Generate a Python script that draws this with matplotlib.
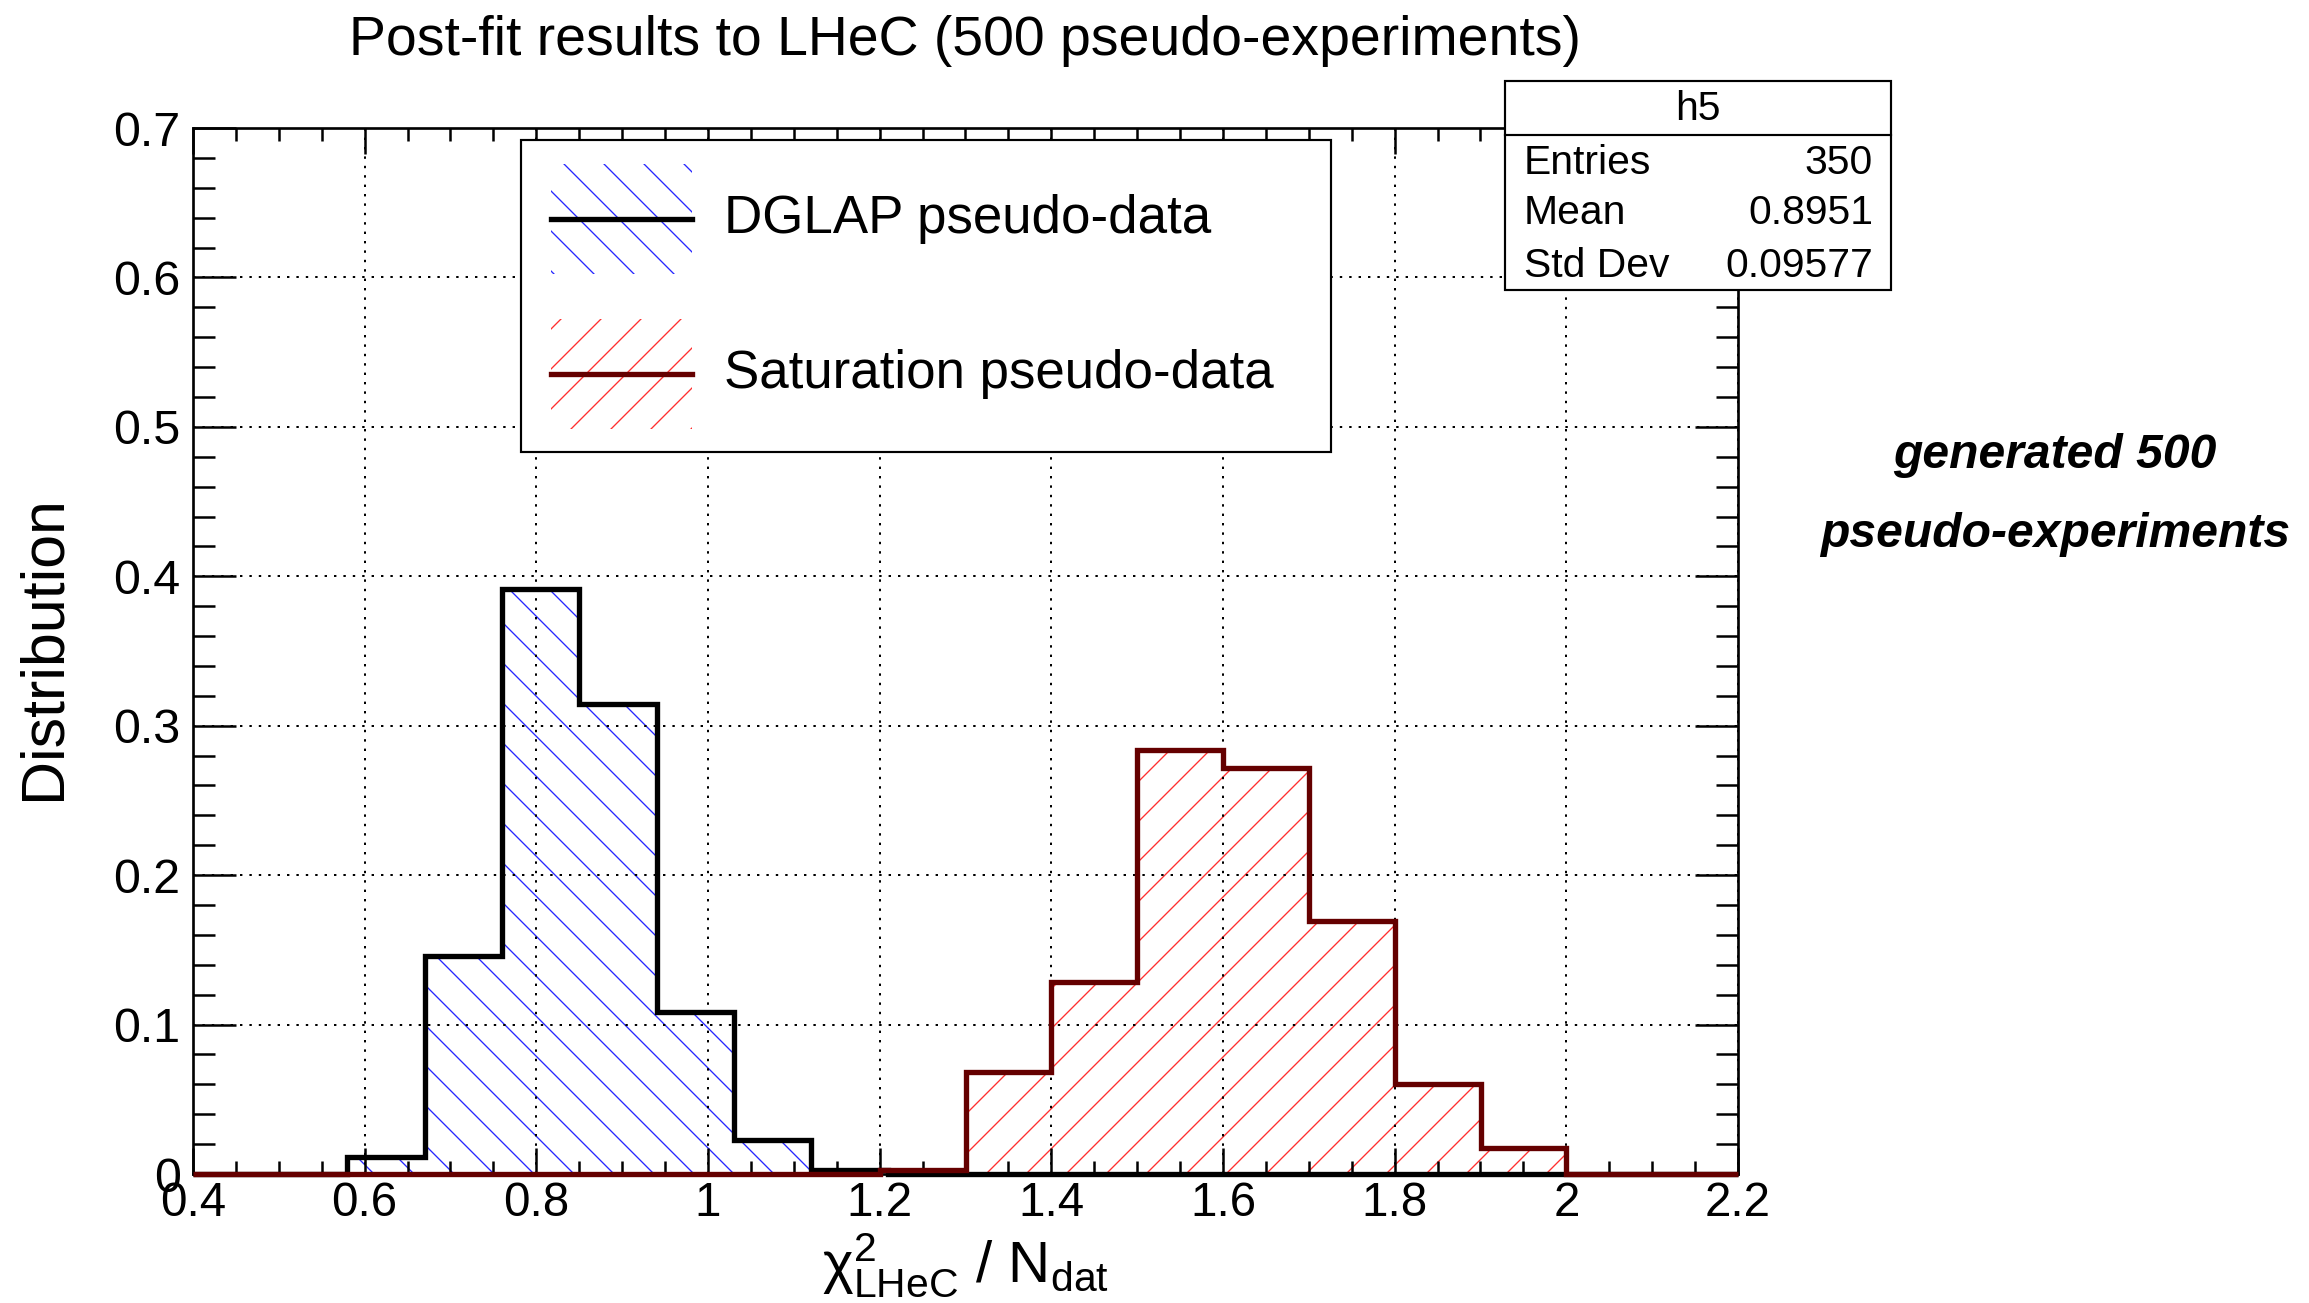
import numpy as np
import matplotlib
matplotlib.use("Agg")
import matplotlib.pyplot as plt
from matplotlib.patches import Rectangle
from matplotlib.lines import Line2D
from matplotlib.ticker import MultipleLocator, FuncFormatter

# ---------------- data ----------------
dglap_edges = np.linspace(0.4, 2.2, 21)          # 20 bins of width 0.09
dglap_values = [0, 0, 0.0114, 0.1457, 0.3914, 0.3143, 0.1086, 0.0229, 0.0029,
                0, 0, 0, 0, 0, 0, 0, 0, 0, 0, 0]
sat_edges = np.linspace(0.4, 2.2, 19)            # 18 bins of width 0.1
sat_values = [0, 0, 0, 0, 0, 0, 0, 0, 0.0025,
              0.0685, 0.1287, 0.2838, 0.2720, 0.1690, 0.0603, 0.0172, 0, 0]

title = "Post-fit results to LHeC (500 pseudo-experiments)"
legend_labels = ["DGLAP pseudo-data", "Saturation pseudo-data"]
stats_title = "h5"
stats_names = ["Entries", "Mean", "Std Dev"]
stats_vals = ["350", "0.8951", "0.09577"]
side_text = ["generated 500", "pseudo-experiments"]

# ---------------- style ----------------
plt.rcParams['font.family'] = ['Liberation Sans', 'DejaVu Sans']
plt.rcParams['mathtext.fontset'] = 'custom'
plt.rcParams['mathtext.rm'] = 'Liberation Sans'
plt.rcParams['mathtext.it'] = 'Liberation Sans:italic'
plt.rcParams['hatch.linewidth'] = 0.8

W, H, DPI = 2309, 1303, 120
fig = plt.figure(figsize=(W / DPI, H / DPI), dpi=DPI)
fig.patch.set_facecolor('white')

def fx(x):
    return x / W

def fy(y):
    return 1 - y / H

L, R, T, B = 193, 1738, 128, 1174
ax = fig.add_axes([fx(L), fy(B), (R - L) / W, (B - T) / H])

BLUE = '#2828ff'
RED = '#ff3030'
DARKRED = '#650000'

# histograms
ax.stairs(dglap_values, dglap_edges, fill=True, hatch='\\', facecolor='none',
          edgecolor=BLUE, linewidth=0, zorder=2)
ax.stairs(dglap_values, dglap_edges, color='black', linewidth=3.2,
          zorder=3, clip_on=False)
ax.stairs(sat_values, sat_edges, fill=True, hatch='/', facecolor='none',
          edgecolor=RED, linewidth=0, zorder=2)
ax.stairs(sat_values, sat_edges, color=DARKRED, linewidth=3.2,
          zorder=3.1, clip_on=False)

ax.set_xlim(0.4, 2.2)
ax.set_ylim(0, 0.7)

ax.xaxis.set_major_locator(MultipleLocator(0.2))
ax.xaxis.set_minor_locator(MultipleLocator(0.05))
ax.yaxis.set_major_locator(MultipleLocator(0.1))
ax.yaxis.set_minor_locator(MultipleLocator(0.02))
fmt = FuncFormatter(lambda v, p: ('%.1f' % v).rstrip('0').rstrip('.') if abs(v) > 1e-9 else '0')
ax.xaxis.set_major_formatter(fmt)
ax.yaxis.set_major_formatter(fmt)

ax.tick_params(axis='both', which='both', direction='in', top=True, right=True,
               width=1.5, colors='black')
ax.tick_params(axis='x', which='major', length=15.6, labelsize=28.5, pad=4)
ax.tick_params(axis='x', which='minor', length=7.8)
ax.tick_params(axis='y', which='major', length=26, labelsize=29, pad=7.5)
ax.tick_params(axis='y', which='minor', length=13)
for s in ax.spines.values():
    s.set_linewidth(1.6)

ax.grid(True, which='major', color='black', linestyle=(0, (1.2, 3.5)), linewidth=1.2)
ax.set_axisbelow(False)

# titles / labels
fig.text(fx(965), fy(41), title, ha='center', va='center', fontsize=33.2)
fig.text(fx(44), fy(648), 'Distribution', rotation=90, ha='center', va='center', fontsize=36.5)
fig.text(fx(965), fy(1265), r'$\mathrm{χ}^{2}_{\mathrm{LHeC}}$ / N$_{\mathrm{dat}}$',
         ha='center', va='center', fontsize=35)

# legend box (drawn manually)
tf = fig.transFigure
ax.add_patch(Rectangle((fx(521), fy(452)), (1331 - 521) / W, (452 - 140) / H,
                       transform=tf, facecolor='white', edgecolor='black',
                       linewidth=1.3, zorder=10, clip_on=False))
entries = [(219, '\\', BLUE, 'black'), (374, '/', RED, DARKRED)]
for (yc, hatch, hc, lc), lab in zip(entries, legend_labels):
    ax.add_patch(Rectangle((fx(551), fy(yc + 55)), (692 - 551) / W, 110 / H,
                           transform=tf, facecolor='none', edgecolor=hc,
                           hatch=hatch, linewidth=0, zorder=11, clip_on=False))
    ax.add_line(Line2D([fx(551), fx(692)], [fy(yc), fy(yc)], transform=tf,
                       color=lc, linewidth=3.2, zorder=12, clip_on=False))
    ax.text(fx(724), fy(yc), lab, transform=tf, ha='left', va='center',
            fontsize=31.7, zorder=12, clip_on=False)

# stats box
ax.add_patch(Rectangle((fx(1505), fy(290)), (1891 - 1505) / W, (290 - 81) / H,
                       transform=tf, facecolor='white', edgecolor='black',
                       linewidth=1.3, zorder=10, clip_on=False))
ax.add_line(Line2D([fx(1505), fx(1891)], [fy(135), fy(135)], transform=tf,
                   color='black', linewidth=1.3, zorder=11, clip_on=False))
ax.text(fx(1698), fy(109), stats_title, transform=tf, ha='center', va='center',
        fontsize=24.5, zorder=12, clip_on=False)
for yc, n, v in zip([163, 213, 266], stats_names, stats_vals):
    ax.text(fx(1524), fy(yc), n, transform=tf, ha='left', va='center',
            fontsize=24.5, zorder=12, clip_on=False)
    ax.text(fx(1873), fy(yc), v, transform=tf, ha='right', va='center',
            fontsize=24.5, zorder=12, clip_on=False)

# side annotation
for yc, t in zip([455, 534], side_text):
    fig.text(fx(2055), fy(yc), t, ha='center', va='center', fontsize=28.8,
             fontweight='bold', fontstyle='italic')

fig.savefig('out.png', dpi=DPI)
